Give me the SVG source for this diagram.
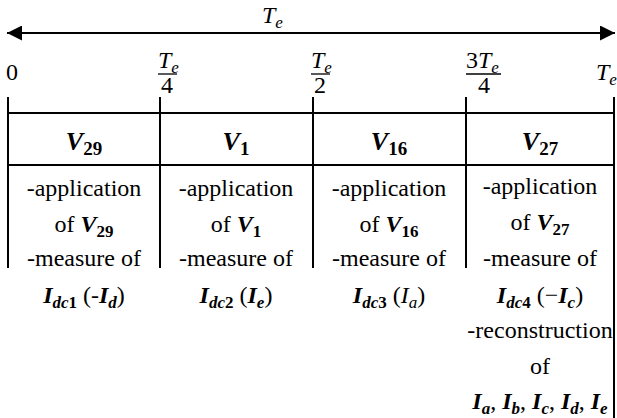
<svg xmlns="http://www.w3.org/2000/svg" width="617" height="418" viewBox="0 0 617 418">
<style>
.t{font-family:"Liberation Serif","Times New Roman",serif;font-size:24px;fill:#000}
.m{font-family:"Liberation Serif","Times New Roman",serif;font-size:24px;fill:#000;font-style:italic}
.h{font-size:26px}
.b{font-weight:bold}
.s{font-size:17px}
.hs{font-size:19px}
.ln{stroke:#000;stroke-width:2;fill:none}
</style>
<defs>
<marker id="ah" viewBox="0 0 10 10" refX="10" refY="5" markerWidth="17" markerHeight="15" markerUnits="userSpaceOnUse" orient="auto-start-reverse">
<path d="M0,0 L10,5 L0,10 z" fill="#000"/>
</marker>
</defs>
<rect width="617" height="418" fill="#fff"/>
<g id="connectors">
<line class="ln" x1="7" y1="33" x2="615" y2="33" stroke-width="3" marker-start="url(#ah)" marker-end="url(#ah)"/>
</g>
<g id="axis-labels">
<text class="m" x="262" y="23">T<tspan class="s" dy="5">e</tspan></text>
<text class="t" x="6" y="80">0</text>
<text class="m" x="158" y="68">T<tspan class="s" dy="5">e</tspan></text>
<line x1="158" y1="74" x2="177" y2="74" stroke="#000" stroke-width="1.3"/>
<text class="t" x="161" y="93">4</text>
<text class="m" x="311" y="68">T<tspan class="s" dy="5">e</tspan></text>
<line x1="311" y1="74" x2="330" y2="74" stroke="#000" stroke-width="1.3"/>
<text class="t" x="314" y="93">2</text>
<text class="m" x="466" y="68"><tspan font-style="normal">3</tspan>T<tspan class="s" dy="5">e</tspan></text>
<line x1="466" y1="74" x2="501" y2="74" stroke="#000" stroke-width="1.3"/>
<text class="t" x="478" y="93">4</text>
<text class="m" x="596" y="80">T<tspan class="s" dy="5">e</tspan></text>
</g>
<g id="grid">
<line class="ln" x1="8" y1="97" x2="8" y2="268"/>
<line class="ln" x1="160" y1="97" x2="160" y2="268"/>
<line class="ln" x1="313" y1="97" x2="313" y2="268"/>
<line class="ln" x1="466" y1="97" x2="466" y2="268"/>
<line class="ln" x1="614" y1="97" x2="614" y2="418"/>
<line class="ln" x1="8" y1="113" x2="614" y2="113"/>
<line class="ln" x1="8" y1="165" x2="614" y2="165"/>
</g>
<g id="col1">
<text class="m b h" x="84" y="150" text-anchor="middle">V<tspan class="hs" dy="5" font-style="normal">29</tspan></text>
<text class="t" x="84" y="196" text-anchor="middle">-application</text>
<text class="t" x="84" y="232" text-anchor="middle">of <tspan class="b" font-style="italic">V</tspan><tspan class="s b" dy="5">29</tspan></text>
<text class="t" x="84" y="266" text-anchor="middle">-measure of</text>
<text class="t" x="84" y="303" text-anchor="middle"><tspan class="b" font-style="italic">I</tspan><tspan class="s b" font-style="italic" dy="5">dc</tspan><tspan class="s b">1</tspan><tspan dy="-5"> (-</tspan><tspan class="b" font-style="italic">I</tspan><tspan class="s b" font-style="italic" dy="5">d</tspan><tspan dy="-5">)</tspan></text>
</g>
<g id="col2">
<text class="m b h" x="236" y="150" text-anchor="middle">V<tspan class="hs" dy="5" font-style="normal">1</tspan></text>
<text class="t" x="236" y="196" text-anchor="middle">-application</text>
<text class="t" x="236" y="232" text-anchor="middle">of <tspan class="b" font-style="italic">V</tspan><tspan class="s b" dy="5">1</tspan></text>
<text class="t" x="236" y="266" text-anchor="middle">-measure of</text>
<text class="t" x="236" y="303" text-anchor="middle"><tspan class="b" font-style="italic">I</tspan><tspan class="s b" font-style="italic" dy="5">dc</tspan><tspan class="s b">2</tspan><tspan dy="-5"> (</tspan><tspan class="b" font-style="italic">I</tspan><tspan class="s b" font-style="italic" dy="5">e</tspan><tspan dy="-5">)</tspan></text>
</g>
<g id="col3">
<text class="m b h" x="389" y="150" text-anchor="middle">V<tspan class="hs" dy="5" font-style="normal">16</tspan></text>
<text class="t" x="389" y="196" text-anchor="middle">-application</text>
<text class="t" x="389" y="232" text-anchor="middle">of <tspan class="b" font-style="italic">V</tspan><tspan class="s b" dy="5">16</tspan></text>
<text class="t" x="389" y="266" text-anchor="middle">-measure of</text>
<text class="t" x="389" y="303" text-anchor="middle"><tspan class="b" font-style="italic">I</tspan><tspan class="s b" font-style="italic" dy="5">dc</tspan><tspan class="s b">3</tspan><tspan dy="-5"> (</tspan><tspan font-style="italic">I</tspan><tspan class="s" font-style="italic" dy="5">a</tspan><tspan dy="-5">)</tspan></text>
</g>
<g id="col4">
<text class="m b h" x="540" y="150" text-anchor="middle">V<tspan class="hs" dy="5" font-style="normal">27</tspan></text>
<text class="t" x="540" y="194" text-anchor="middle">-application</text>
<text class="t" x="540" y="230" text-anchor="middle">of <tspan class="b" font-style="italic">V</tspan><tspan class="s b" dy="5">27</tspan></text>
<text class="t" x="540" y="266" text-anchor="middle">-measure of</text>
<text class="t" x="540" y="303" text-anchor="middle"><tspan class="b" font-style="italic">I</tspan><tspan class="s b" font-style="italic" dy="5">dc</tspan><tspan class="s b">4</tspan><tspan dy="-5"> (−</tspan><tspan class="b" font-style="italic">I</tspan><tspan class="s b" font-style="italic" dy="5">c</tspan><tspan dy="-5">)</tspan></text>
<text class="t" x="540" y="338" text-anchor="middle">-reconstruction</text>
<text class="t" x="540" y="374" text-anchor="middle">of</text>
<text class="t" x="540" y="409" text-anchor="middle"><tspan class="b" font-style="italic">I</tspan><tspan class="s b" font-style="italic" dy="5">a</tspan><tspan dy="-5">, </tspan><tspan class="b" font-style="italic">I</tspan><tspan class="s b" font-style="italic" dy="5">b</tspan><tspan dy="-5">, </tspan><tspan class="b" font-style="italic">I</tspan><tspan class="s b" font-style="italic" dy="5">c</tspan><tspan dy="-5">, </tspan><tspan class="b" font-style="italic">I</tspan><tspan class="s b" font-style="italic" dy="5">d</tspan><tspan dy="-5">, </tspan><tspan class="b" font-style="italic">I</tspan><tspan class="s b" font-style="italic" dy="5">e</tspan></text>
</g>
</svg>
